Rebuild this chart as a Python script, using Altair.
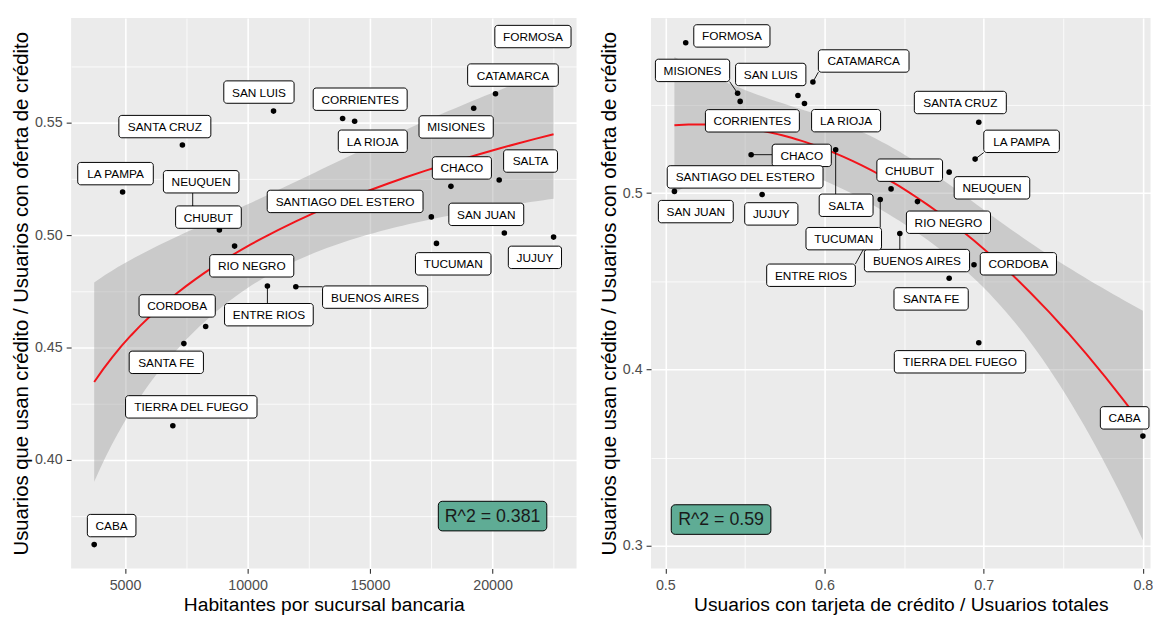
import altair as alt
import numpy as np
import pandas as pd

# ---------------- data ----------------
provincias = ["BUENOS AIRES", "CABA", "CATAMARCA", "CHACO", "CHUBUT", "CORDOBA",
              "CORRIENTES", "ENTRE RIOS", "FORMOSA", "JUJUY", "LA PAMPA", "LA RIOJA",
              "MISIONES", "NEUQUEN", "RIO NEGRO", "SALTA", "SAN JUAN", "SAN LUIS",
              "SANTA CRUZ", "SANTA FE", "SANTIAGO DEL ESTERO", "TIERRA DEL FUEGO", "TUCUMAN"]

habitantes_por_sucursal = [11970, 3740, 20120, 18300, 8850, 8290,
                           13880, 10810, 21700, 22490, 4900, 14370,
                           19230, 7760, 9470, 20270, 20480, 11060,
                           7340, 7400, 17500, 6950, 17710]

usan_credito = [0.4771, 0.3623, 0.5630, 0.5218, 0.5024, 0.4594,
                0.5520, 0.4774, 0.5852, 0.4992, 0.5193, 0.5508,
                0.5566, 0.5119, 0.4952, 0.5246, 0.5010, 0.5553,
                0.5402, 0.4518, 0.5082, 0.4152, 0.4964]

tarjeta_credito = [0.6473, 0.8000, 0.5927, 0.5539, 0.6418, 0.6939,
                   0.5470, 0.6300, 0.5128, 0.5608, 0.6946, 0.5874,
                   0.5454, 0.6783, 0.6584, 0.6070, 0.5057, 0.5833,
                   0.6969, 0.6783, 0.5500, 0.6969, 0.6350]

r2_izq = "R^2 = 0.381"
r2_der = "R^2 = 0.59"
r2_izq_pos = (20000, 0.375)
r2_der_pos = (0.535, 0.315)

y_title = "Usuarios que usan crédito / Usuarios con oferta de crédito"
x_title_izq = "Habitantes por sucursal bancaria"
x_title_der = "Usuarios con tarjeta de crédito / Usuarios totales"

ticks_x_izq = [5000, 7500, 10000, 12500, 15000, 17500, 20000, 22500]
ticks_y_izq = [0.375, 0.4, 0.425, 0.45, 0.475, 0.5, 0.525, 0.55, 0.575]
ticks_x_der = [0.5, 0.55, 0.6, 0.65, 0.7, 0.75, 0.8]
ticks_y_der = [0.3, 0.35, 0.4, 0.45, 0.5, 0.55]

# ---------------- layout / style ----------------
FONT = "Liberation Sans, Arial, sans-serif"
PLOT_H = 558
LEFT_W = 512.5
RIGHT_W = 506.5
X_DOM_IZQ = [2798, 23428]
Y_DOM_IZQ = [0.3517, 0.5967]
X_DOM_DER = [0.4910, 0.8048]
Y_DOM_DER = [0.2873, 0.5992]
LABEL_SIZE = 12
LABEL_PADX = 8.3
BOX_H = 22.7

# label offsets in pixels from each point (dx, dy, draw segment)
off_izq = {
    "FORMOSA": (-1.3, -7.5, False), "CATAMARCA": (17.7, -19, False), "MISIONES": (-17.8, 19, False),
    "SAN LUIS": (-14.8, -19.3, False), "CORRIENTES": (17.8, -19.6, False), "LA RIOJA": (18.4, 20.3, False),
    "SANTA CRUZ": (-17.8, -18.7, False), "LA PAMPA": (-7.2, -18.6, False), "NEUQUEN": (8.6, -27.2, True),
    "CHUBUT": (-11.1, -13, False), "SANTIAGO DEL ESTERO": (-87.4, -15.7, False), "CHACO": (11.1, -18.7, False),
    "SALTA": (31.8, -19.3, False), "SAN JUAN": (-18.3, -19, False), "TUCUMAN": (17, 20.7, False),
    "JUJUY": (-18.9, 20.5, False), "RIO NEGRO": (17.4, 20, False), "BUENOS AIRES": (80.4, 10.5, True),
    "ENTRE RIOS": (1.5, 29, True), "CORDOBA": (-28.9, -20.9, False), "SANTA FE": (-17.8, 19, False),
    "TIERRA DEL FUEGO": (18.7, -19.2, False), "CABA": (17.7, -19.3, False),
}
off_der = {
    "FORMOSA": (46.8, -7, False), "MISIONES": (-45.7, -23.2, True), "SAN LUIS": (-27.6, -21.4, False),
    "CATAMARCA": (51.5, -21.3, True), "CORRIENTES": (12.4, 19.7, False), "LA RIOJA": (42.2, 17.4, False),
    "SANTA CRUZ": (-18.7, -20, False), "LA PAMPA": (47.1, -18, True), "CHACO": (51.3, 0.7, True),
    "SALTA": (10.6, 56.3, True), "NEUQUEN": (43.4, 15.9, False), "CHUBUT": (18.9, -19, False),
    "SANTIAGO DEL ESTERO": (0.2, -1.8, False), "SAN JUAN": (21.7, 20.5, False), "JUJUY": (9.3, 19.6, False),
    "TUCUMAN": (-37, 39.7, True), "RIO NEGRO": (31.4, 20.9, False), "BUENOS AIRES": (17.4, 27.4, True),
    "ENTRE RIOS": (-62.1, 42.8, True), "CORDOBA": (45, -1, False), "SANTA FE": (-18.3, 21, False),
    "TIERRA DEL FUEGO": (-19, 19.3, False), "CABA": (-18.5, -18.5, False),
}

CHAR_W = {"A": .667, "B": .667, "C": .722, "D": .722, "E": .667, "F": .611, "G": .778,
          "H": .722, "I": .278, "J": .5, "K": .667, "L": .556, "M": .833, "N": .722,
          "O": .778, "P": .667, "Q": .778, "R": .722, "S": .667, "T": .611, "U": .722,
          "V": .667, "W": .944, "X": .667, "Y": .667, "Z": .611, " ": .278}


def text_w(s, size):
    return sum(CHAR_W.get(c, 0.6) for c in s) * size


def label_table(xs, ys, xdom, ydom, width, height, offsets):
    kx = width / (xdom[1] - xdom[0])
    ky = height / (ydom[1] - ydom[0])
    to_x = lambda p: xdom[0] + p / kx
    to_y = lambda p: ydom[1] - p / ky
    rows = []
    for name, x, y in zip(provincias, xs, ys):
        dx, dy, seg = offsets[name]
        px = (x - xdom[0]) * kx
        py = (ydom[1] - y) * ky
        cx, cy = px + dx, py + dy
        hw = (text_w(name, LABEL_SIZE) + 2 * LABEL_PADX) / 2
        hh = BOX_H / 2
        ex = min(max(px, cx - hw), cx + hw)
        ey = min(max(py, cy - hh), cy + hh)
        rows.append(dict(name=name, x=x, y=y, cx=to_x(cx), cy=to_y(cy),
                         x0=to_x(cx - hw), x1=to_x(cx + hw), y0=to_y(cy + hh), y1=to_y(cy - hh),
                         ex=to_x(ex), ey=to_y(ey), seg=seg))
    return pd.DataFrame(rows)


def box_table(text, pos, w, h, xdom, ydom, width, height):
    kx = width / (xdom[1] - xdom[0])
    ky = height / (ydom[1] - ydom[0])
    return pd.DataFrame([dict(t=text, cx=pos[0], cy=pos[1],
                              x0=pos[0] - w / 2 / kx, x1=pos[0] + w / 2 / kx,
                              y0=pos[1] - h / 2 / ky, y1=pos[1] + h / 2 / ky)])


def conf_band(xs, ys, kind, tq):
    x = np.array(xs, float)
    y = np.array(ys, float)

    def design(v):
        if kind == "log":
            return np.column_stack([np.ones_like(v), np.log(v)])
        return np.column_stack([np.ones_like(v), v, v ** 2])

    X = design(x)
    beta = np.linalg.lstsq(X, y, rcond=None)[0]
    resid = y - X @ beta
    s2 = resid @ resid / (len(y) - X.shape[1])
    xtxi = np.linalg.inv(X.T @ X)
    g = np.linspace(x.min(), x.max(), 80)
    G = design(g)
    fit = G @ beta
    se = np.sqrt(np.einsum("ij,jk,ik->i", G, xtxi, G) * s2)
    return pd.DataFrame(dict(x=g, lo=fit - tq * se, hi=fit + tq * se))


def make_axis(values, fmt, test, title, title_size, **kw):
    return alt.Axis(values=values, format=fmt, labelExpr=f"({test}) ? datum.label : ''",
                    title=title, domain=False, grid=True, gridColor="white",
                    gridWidth={"condition": {"test": test, "value": 1.6}, "value": 0.8},
                    tickOpacity={"condition": {"test": test, "value": 1}, "value": 0},
                    tickColor="#333333", tickSize=5, tickWidth=1.1, labelOverlap=False,
                    labelColor="#4D4D4D", labelFontSize=14.5, labelFont=FONT,
                    titleFont=FONT, titleFontSize=title_size, titleColor="black",
                    titleFontWeight="normal", **kw)


def panel(xs, xdom, ydom, width, xaxis, yaxis, offsets, method, tq, r2, r2pos, r2w):
    xsc = alt.Scale(domain=xdom, zero=False, nice=False)
    ysc = alt.Scale(domain=ydom, zero=False, nice=False)
    X = lambda f: alt.X(f, type="quantitative", scale=xsc, axis=xaxis)
    Y = lambda f: alt.Y(f, type="quantitative", scale=ysc, axis=yaxis)

    pts = pd.DataFrame(dict(name=provincias, x=xs, y=usan_credito))
    lab = label_table(xs, usan_credito, xdom, ydom, width, PLOT_H, offsets)
    bnd = conf_band(xs, usan_credito, method, tq)
    r2df = box_table(r2, r2pos, r2w, 30, xdom, ydom, width, PLOT_H)

    ribbon = alt.Chart(bnd).mark_area(color="#999999", opacity=0.4, clip=True).encode(
        x=X("x"), y=Y("lo"), y2=alt.Y2("hi"))
    if method == "log":
        reg = alt.Chart(pts).transform_regression("x", "y", method="log")
    else:
        reg = alt.Chart(pts).transform_regression("x", "y", method="poly", order=2)
    line = reg.mark_line(color="#F2141B", strokeWidth=2, clip=True).encode(x=X("x"), y=Y("y"))
    points = alt.Chart(pts).mark_circle(size=32, color="black", opacity=1).encode(x=X("x"), y=Y("y"))
    segs = alt.Chart(lab).transform_filter("datum.seg").mark_rule(color="black", strokeWidth=0.9).encode(
        x=X("x"), y=Y("y"), x2=alt.X2("ex"), y2=alt.Y2("ey"))
    boxes = alt.Chart(lab).mark_rect(fill="white", stroke="black", strokeWidth=1, cornerRadius=3).encode(
        x=X("x0"), x2=alt.X2("x1"), y=Y("y0"), y2=alt.Y2("y1"))
    texts = alt.Chart(lab).mark_text(font=FONT, fontSize=LABEL_SIZE, color="black",
                                     baseline="middle", align="center", dy=0.5).encode(
        x=X("cx"), y=Y("cy"), text="name:N")
    r2box = alt.Chart(r2df).mark_rect(fill="#5FAC95", stroke="black", strokeWidth=1, cornerRadius=4).encode(
        x=X("x0"), x2=alt.X2("x1"), y=Y("y0"), y2=alt.Y2("y1"))
    r2txt = alt.Chart(r2df).mark_text(font=FONT, fontSize=18, color="#1A1A1A",
                                      baseline="middle", align="center", dy=1).encode(
        x=X("cx"), y=Y("cy"), text="t:N")
    return alt.layer(ribbon, line, points, segs, boxes, texts, r2box, r2txt).properties(
        width=width, height=PLOT_H)


test20 = "abs(datum.value*20 - round(datum.value*20)) < 0.001"
test10 = "abs(datum.value*10 - round(datum.value*10)) < 0.001"

left = panel(habitantes_por_sucursal, X_DOM_IZQ, Y_DOM_IZQ, LEFT_W,
             make_axis(ticks_x_izq, "d", "datum.value % 5000 == 0", x_title_izq, 19.5,
                       labelPadding=5, titlePadding=4),
             make_axis(ticks_y_izq, ".2f", test20, y_title, 20.6, labelPadding=4, titlePadding=3),
             off_izq, "log", 2.0796, r2_izq, r2_izq_pos, 110)

right = panel(tarjeta_credito, X_DOM_DER, Y_DOM_DER, RIGHT_W,
              make_axis(ticks_x_der, ".1f", test10, x_title_der, 19.5, labelPadding=5, titlePadding=4),
              make_axis(ticks_y_der, ".1f", test10, y_title, 20.6, labelPadding=4, titlePadding=3),
              off_der, "poly", 2.0860, r2_der, r2_der_pos, 101)

chart = alt.hconcat(left, right, spacing=22).properties(
    padding={"left": 3, "top": 6, "right": 0, "bottom": 0}
).configure_view(fill="#EBEBEB", strokeWidth=0)

chart.save("out.html", embed_options={"renderer": "svg", "actions": False})
